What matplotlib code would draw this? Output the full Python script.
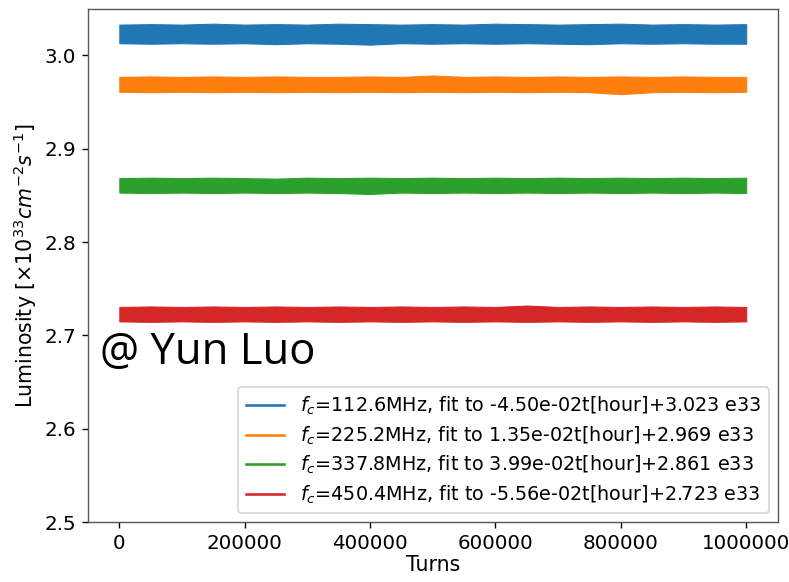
import numpy as np
import matplotlib
matplotlib.use('Agg')
import matplotlib.pyplot as plt

turns = [0, 50000, 100000, 150000, 200000, 250000, 300000, 350000, 400000, 450000, 500000,
         550000, 600000, 650000, 700000, 750000, 800000, 850000, 900000, 950000, 1000000]

labels = ['$f_c$=112.6MHz, fit to -4.50e-02t[hour]+3.023 e33',
          '$f_c$=225.2MHz, fit to 1.35e-02t[hour]+2.969 e33',
          '$f_c$=337.8MHz, fit to 3.99e-02t[hour]+2.861 e33',
          '$f_c$=450.4MHz, fit to -5.56e-02t[hour]+2.723 e33']
colors = ['#1f77b4', '#ff7f0e', '#2ca02c', '#d62728']

# upper / lower edge of each noisy band (x1e33)
blue_top = [3.0330, 3.0335, 3.0330, 3.0340, 3.0330, 3.0335, 3.0330, 3.0340, 3.0335, 3.0330, 3.0335,
            3.0330, 3.0340, 3.0335, 3.0330, 3.0335, 3.0340, 3.0330, 3.0335, 3.0330, 3.0335]
blue_bot = [3.0130, 3.0125, 3.0130, 3.0125, 3.0130, 3.0120, 3.0130, 3.0125, 3.0115, 3.0130, 3.0125,
            3.0130, 3.0125, 3.0130, 3.0125, 3.0120, 3.0130, 3.0125, 3.0130, 3.0125, 3.0125]
orange_top = [2.9770, 2.9775, 2.9770, 2.9775, 2.9770, 2.9775, 2.9770, 2.9770, 2.9775, 2.9770, 2.9785,
              2.9770, 2.9775, 2.9770, 2.9775, 2.9770, 2.9775, 2.9770, 2.9775, 2.9770, 2.9770]
orange_bot = [2.9610, 2.9605, 2.9610, 2.9605, 2.9610, 2.9605, 2.9610, 2.9605, 2.9610, 2.9605, 2.9610,
              2.9605, 2.9610, 2.9605, 2.9610, 2.9605, 2.9585, 2.9605, 2.9610, 2.9605, 2.9610]
green_top = [2.8685, 2.8690, 2.8685, 2.8690, 2.8685, 2.8680, 2.8690, 2.8685, 2.8690, 2.8685, 2.8690,
             2.8685, 2.8690, 2.8685, 2.8690, 2.8685, 2.8690, 2.8685, 2.8690, 2.8685, 2.8690]
green_bot = [2.8530, 2.8525, 2.8530, 2.8525, 2.8530, 2.8525, 2.8530, 2.8525, 2.8515, 2.8530, 2.8525,
             2.8530, 2.8525, 2.8530, 2.8525, 2.8530, 2.8525, 2.8530, 2.8525, 2.8530, 2.8525]
red_top = [2.7305, 2.7310, 2.7305, 2.7310, 2.7305, 2.7310, 2.7305, 2.7310, 2.7305, 2.7310, 2.7305,
           2.7310, 2.7305, 2.7320, 2.7305, 2.7310, 2.7305, 2.7310, 2.7305, 2.7310, 2.7305]
red_bot = [2.7150, 2.7145, 2.7150, 2.7145, 2.7150, 2.7145, 2.7150, 2.7145, 2.7150, 2.7145, 2.7150,
           2.7145, 2.7150, 2.7145, 2.7150, 2.7145, 2.7150, 2.7145, 2.7150, 2.7145, 2.7150]

tops = [blue_top, orange_top, green_top, red_top]
bots = [blue_bot, orange_bot, green_bot, red_bot]

plt.rcParams['font.size'] = 12
plt.rcParams['xtick.labelsize'] = 11.6
plt.rcParams['ytick.labelsize'] = 11.6
plt.rcParams['axes.edgecolor'] = '#555555'

fig = plt.figure(figsize=(789 / 123.3, 582 / 123.3), dpi=123.3)
ax = fig.add_axes([0.1115, 0.103, 0.874, 0.882])

for top, bot, c, lab in zip(tops, bots, colors, labels):
    ax.fill_between(turns, bot, top, color=c, lw=0.6, edgecolor=c)
    ax.plot([], [], color=c, label=lab)

ax.set_xlim(-50000, 1050000)
ax.set_ylim(2.5, 3.05)
ax.set_yticks([2.5, 2.6, 2.7, 2.8, 2.9, 3.0])
ax.ticklabel_format(axis='x', style='plain', useOffset=False)
ax.set_xlabel('Turns', labelpad=1)
ax.set_ylabel(r'Luminosity [$\times10^{33}cm^{-2}s^{-1}$]', labelpad=3)
ax.legend(loc='lower right', fontsize=11.2, labelspacing=0.38, borderaxespad=0.45)

fig.text(100 / 789, 1 - 363 / 582, '@ Yun Luo', fontsize=25.5, family='Open Sans',
         color='black', ha='left', va='baseline')

fig.savefig('out.png', dpi=123.3)
